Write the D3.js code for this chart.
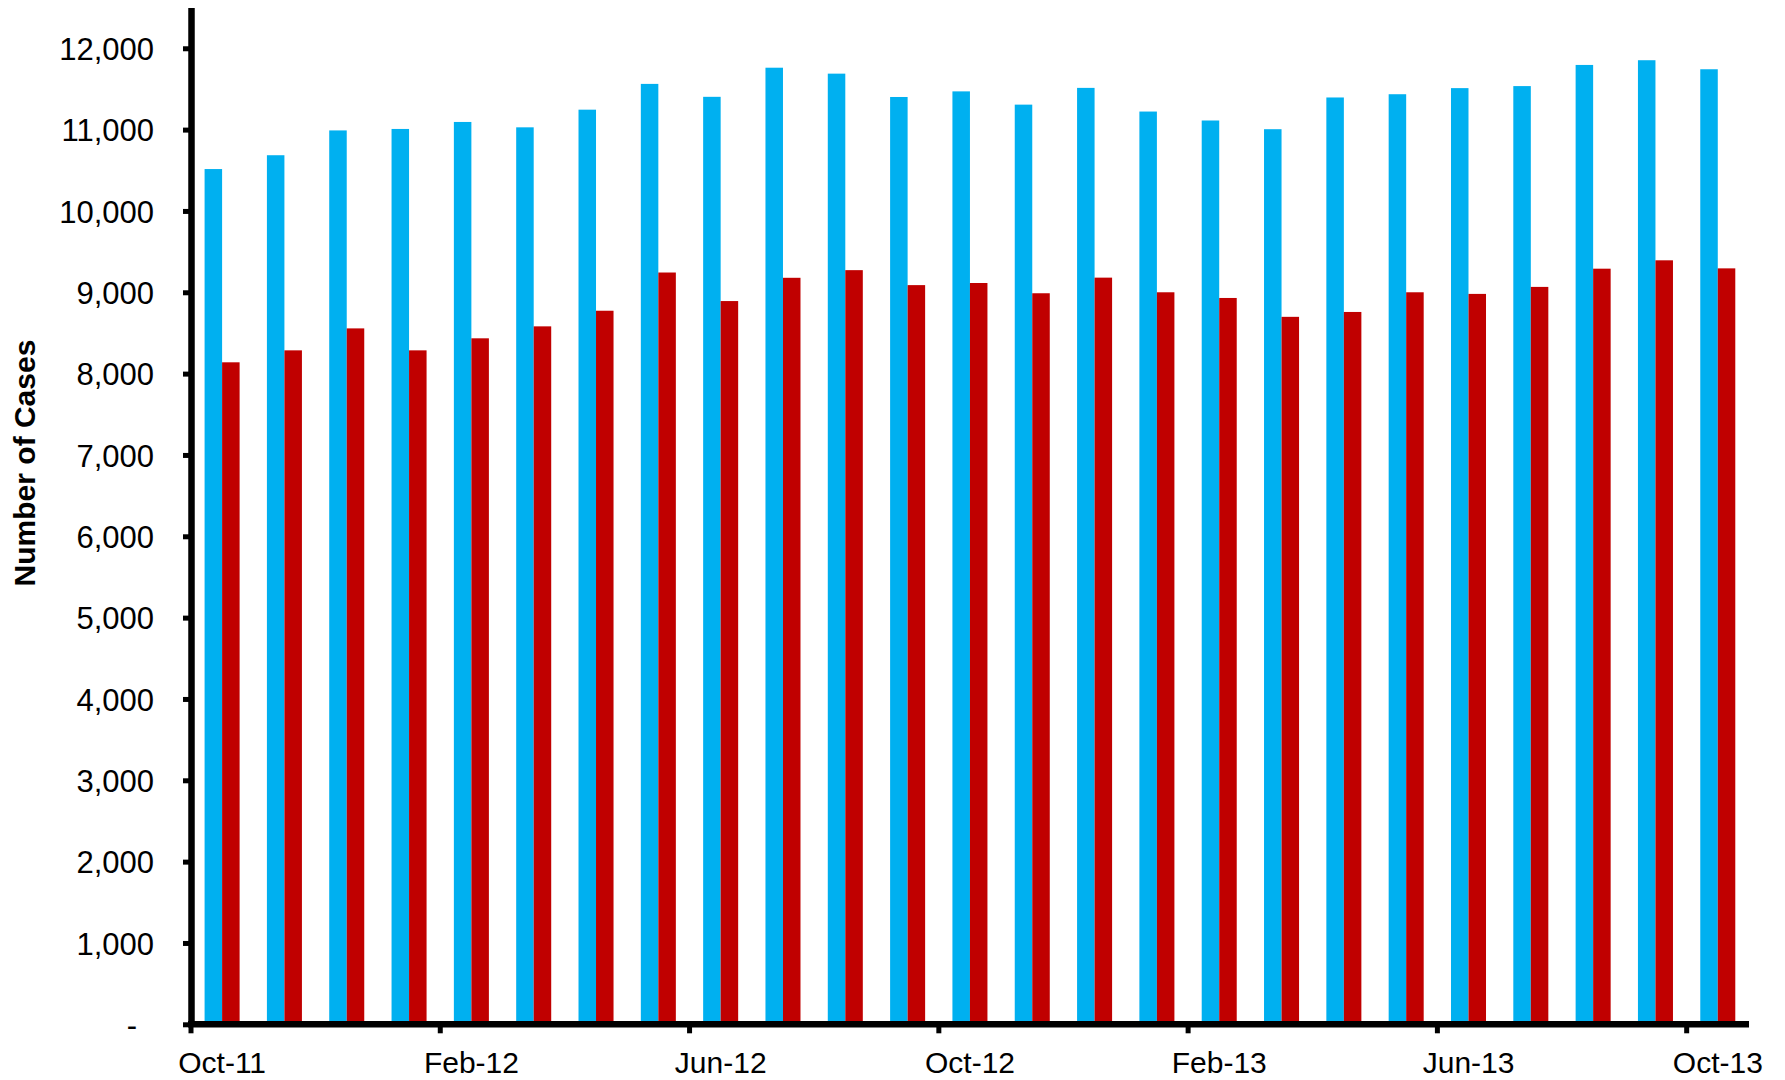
<!DOCTYPE html>
<html>
<head>
<meta charset="utf-8">
<script src="https://cdn.jsdelivr.net/npm/d3@7"></script>
<style>
  html, body { margin: 0; padding: 0; background: #fff; }
  svg { display: block; }
</style>
</head>
<body>
<svg id="chart" width="1785" height="1080"></svg>
<script>
const months = ["Oct-11","Nov-11","Dec-11","Jan-12","Feb-12","Mar-12","Apr-12","May-12","Jun-12","Jul-12","Aug-12","Sep-12",
                "Oct-12","Nov-12","Dec-12","Jan-13","Feb-13","Mar-13","Apr-13","May-13","Jun-13","Jul-13","Aug-13","Sep-13","Oct-13"];
const seriesNames = ["Series A", "Series B"];
const seriesA = [10515, 10685, 10990, 11008, 11094, 11028, 11245, 11562, 11403, 11761, 11688, 11401,
                 11470, 11307, 11513, 11222, 11112, 11005, 11395, 11435, 11510, 11535, 11795, 11853, 11742];
const seriesB = [8139, 8286, 8556, 8286, 8434, 8581, 8773, 9243, 8892, 9178, 9272, 9088,
                 9114, 8988, 9180, 9000, 8930, 8698, 8758, 9000, 8980, 9066, 9290, 9393, 9294];
const seriesColors = ["#00B0F0", "#C00000"];
const xTickLabels = ["Oct-11","Feb-12","Jun-12","Oct-12","Feb-13","Jun-13","Oct-13"];
const yTicks = [0,1000,2000,3000,4000,5000,6000,7000,8000,9000,10000,11000,12000];
const yMax = 12500;
const yTitle = "Number of Cases";

(function () {
const svg = d3.select("#chart");
const mLeft = 191, mRight = 1749, mTop = 7.6, mBottom = 1024.3;

const x = d3.scaleBand().domain(months).range([mLeft, mRight]).paddingInner(0).paddingOuter(0);
const bw = x.bandwidth();
const xs = d3.scaleBand().domain(seriesNames).range([bw * 0.218, bw * 0.78]).padding(0);
const y = d3.scaleLinear().domain([0, yMax]).range([mBottom, mTop]);

const data = months.map((m, i) => ({ month: m, values: [seriesA[i], seriesB[i]] }));

// bars
const groups = svg.append("g").selectAll("g").data(data).join("g")
  .attr("transform", d => `translate(${x(d.month)},0)`);
groups.selectAll("rect").data(d => d.values.map((v, j) => ({ s: seriesNames[j], v, c: seriesColors[j] })))
  .join("rect")
  .attr("x", d => xs(d.s))
  .attr("width", xs.bandwidth())
  .attr("y", d => y(d.v))
  .attr("height", d => y(0) - y(d.v))
  .attr("fill", d => d.c);

const fmt = d3.format(",");

// y axis
const yAxis = svg.append("g")
  .attr("transform", `translate(${mLeft},0)`)
  .call(d3.axisLeft(y).tickValues(yTicks).tickSize(8).tickSizeOuter(0).tickPadding(29)
        .tickFormat(d => d === 0 ? "-" : fmt(d)));
yAxis.select(".domain").attr("stroke", "#000").attr("stroke-width", 6.5);
yAxis.selectAll(".tick line").attr("stroke", "#000").attr("stroke-width", 5);
yAxis.selectAll(".tick text")
  .attr("fill", "#000")
  .style("font-family", "'Liberation Sans', Arial, sans-serif")
  .style("font-size", "31px")
  .attr("dy", "0.36em")
  .attr("dx", d => d === 0 ? -17 : 0);

// x axis
const xAxis = svg.append("g")
  .attr("transform", `translate(0,${mBottom})`)
  .call(d3.axisBottom(x).tickValues(xTickLabels).tickSize(9).tickSizeOuter(0));
xAxis.select(".domain").attr("stroke", "#000").attr("stroke-width", 6.5)
  .attr("d", `M${mLeft - 3},0H${mRight}`);
xAxis.selectAll(".tick line").attr("stroke", "#000").attr("stroke-width", 5)
  .attr("x1", -bw / 2).attr("x2", -bw / 2);
xAxis.selectAll(".tick text")
  .attr("fill", "#000")
  .style("font-family", "'Liberation Sans', Arial, sans-serif")
  .style("font-size", "30px")
  .attr("y", 49).attr("dy", null);

// y title
svg.append("text")
  .attr("transform", "translate(35,463) rotate(-90)")
  .attr("text-anchor", "middle")
  .style("font-family", "'Liberation Sans', Arial, sans-serif")
  .style("font-size", "30px")
  .style("font-weight", "bold")
  .text(yTitle);
})();
</script>
</body>
</html>
